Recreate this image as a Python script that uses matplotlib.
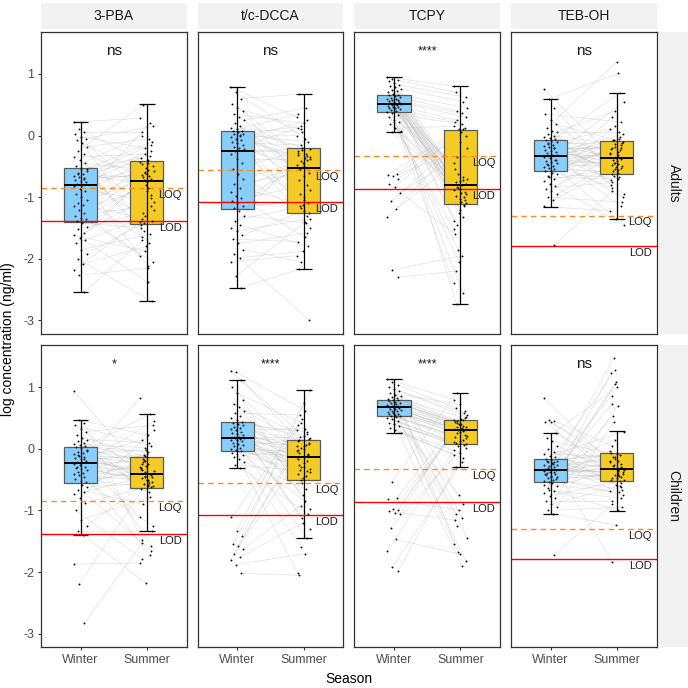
import matplotlib
matplotlib.use('Agg')
import matplotlib.pyplot as plt
import numpy as np

plt.rcParams['font.family'] = ['Liberation Sans', 'DejaVu Sans']
plt.rcParams['axes.unicode_minus'] = False

# ── Data ──────────────────────────────────────────────────────────────────────
compounds = ['3-PBA', 't/c-DCCA', 'TCPY', 'TEB-OH']
groups    = ['Adults', 'Children']
seasons   = ['Winter', 'Summer']

loq = [-0.85, -0.556, -0.334, -1.30]
lod = [-1.383, -1.08, -0.864, -1.79]

signif_adults   = ['ns', 'ns', '****', 'ns']
signif_children = ['*', '****', '****', 'ns']

# box stats: (whisker low, q1, median, q3, whisker high)
box_winter_adults   = [(-2.54, -1.40, -0.80, -0.523, 0.227), (-2.47, -1.19, -0.253, 0.076, 0.795),
                       (0.05, 0.384, 0.514, 0.65, 0.946), (-1.156, -0.583, -0.33, -0.075, 0.595)]
box_summer_adults   = [(-2.69, -1.43, -0.73, -0.415, 0.51), (-2.17, -1.25, -0.523, -0.205, 0.67),
                       (-2.74, -1.118, -0.80, 0.097, 0.805), (-1.35, -0.626, -0.361, -0.09, 0.69)]
box_winter_children = [(-1.40, -0.55, -0.23, 0.03, 0.47), (-0.31, -0.04, 0.17, 0.43, 1.125),
                       (0.26, 0.525, 0.677, 0.80, 1.136), (-1.05, -0.535, -0.345, -0.17, 0.255)]
box_summer_children = [(-1.33, -0.63, -0.41, -0.125, 0.56), (-1.44, -0.51, -0.13, 0.15, 0.95),
                       (-0.29, 0.076, 0.31, 0.466, 0.91), (-1.006, -0.525, -0.325, -0.06, 0.287)]

# paired individual values (log ng/ml), winter[i] <-> summer[i]
pba_adults_winter = [0.22, 0.10, 0.05, 0.02, -0.02, -0.05, -0.08, -0.12, -0.18, -0.25, -0.30, -0.35, -0.40, -0.45, -0.50,
                     -0.55, -0.57, -0.60, -0.62, -0.65, -0.67, -0.70, -0.72, -0.74, -0.76, -0.78, -0.80, -0.55, -0.63, -0.69,
                     -0.82, -0.86, -0.90, -0.95, -1.00, -1.05, -1.10, -1.12, -1.15, -1.20, -1.25, -1.30, -1.33, -1.36, -1.39,
                     -1.42, -1.48, -1.52, -1.58, -1.62, -1.66, -1.70, -1.75, -1.85, -1.92, -2.00, -2.08, -2.18, -2.27, -2.54]
pba_adults_summer = [0.28, -0.45, 0.05, -1.02, -0.20, 0.15, -0.62, -1.45, -0.05, 0.50, -0.70, -0.30, -1.20, -0.56, 0.00,
                     -0.33, -1.55, -0.10, -0.80, -0.43, -2.12, -0.64, -0.15, -1.30, -0.50, -0.90, -0.36, -1.75, -0.68, -0.25,
                     -0.59, -1.08, -0.40, -1.65, 0.20, -0.72, -1.38, -0.53, -1.95, -0.85, -0.46, -1.14, -0.60, -2.05, -0.76,
                     -1.50, -0.66, -1.25, -0.96, -1.88, -0.58, -2.38, -1.35, -1.60, -1.42, -2.69, -1.80, -1.40, -2.15, -1.70]

dcca_adults_winter = [0.79, 0.70, 0.60, 0.52, 0.45, 0.40, 0.35, 0.30, 0.25, 0.20, 0.15, 0.12, 0.10, 0.08, 0.08,
                      0.05, 0.03, 0.02, 0.00, -0.02, -0.05, -0.08, -0.10, -0.12, -0.15, -0.18, -0.20, -0.22, -0.25, 0.01,
                      -0.30, -0.38, -0.45, -0.55, -0.62, -0.70, -0.78, -0.85, -0.92, -0.98, -1.02, -1.06, -1.10, -1.14, -1.18,
                      -1.22, -1.30, -1.38, -1.45, -1.50, -1.55, -1.62, -1.68, -1.75, -1.85, -1.92, -1.98, -2.05, -2.28, -2.47]
dcca_adults_summer = [0.30, -0.05, 0.67, -0.40, 0.10, -0.88, 0.20, -0.28, 0.45, -0.55, -1.10, 0.05, -0.22, -0.65, 0.35,
                      -0.33, 0.15, -1.26, -0.45, 0.00, -0.36, -0.72, 0.25, -0.15, -1.50, -0.50, 0.12, -0.30, -0.95, -0.10,
                      -0.20, -0.38, -1.00, -0.25, -1.30, -0.42, -0.60, -1.12, -0.48, -1.65, -0.52, -0.80, -1.18, -0.35, -1.05,
                      -0.31, -1.42, -1.15, -1.80, -0.24, -1.35, -1.22, -1.72, -1.58, -2.05, -2.99, -1.88, -1.95, -1.40, -2.17]

tcpy_adults_winter = [0.95, 0.92, 0.90, 0.88, 0.85, 0.82, 0.80, 0.78, 0.76, 0.74, 0.72, 0.70, 0.68, 0.66, 0.65, 0.64,
                      0.62, 0.61, 0.60, 0.59, 0.58, 0.57, 0.56, 0.55, 0.54, 0.53, 0.52, 0.51, 0.50, 0.49, 0.48, 0.47,
                      0.46, 0.45, 0.44, 0.43, 0.42, 0.40, 0.38, 0.36, 0.34, 0.30, 0.26, 0.22, 0.18, 0.12, 0.08, 0.05,
                      -0.62, -0.64, -0.66, -0.70, -0.79, -0.83, -0.93, -1.07, -1.19, -1.32, -2.18, -2.30]
tcpy_adults_summer = [0.80, -0.81, 0.70, -1.15, -0.85, 0.62, -1.20, -0.89, 0.55, -2.74, -0.91, -1.25, 0.45, -0.93, -0.55, -1.32,
                      0.40, -0.95, -0.87, -2.40, 0.36, -0.98, -1.00, -0.62, 0.30, -1.03, -1.38, -0.68, 0.25, -1.05, -2.05, -0.70,
                      -1.08, 0.22, -0.72, -1.45, -1.10, -0.74, -1.52, 0.18, -0.76, -1.12, -1.85, -0.78, -0.79, 0.15, -2.55, -0.83,
                      0.12, 0.10, -0.20, 0.05, -1.60, 0.10, -0.35, 0.00, -0.10, -0.45, -1.95, -2.20]

teb_adults_winter = [0.75, 0.59, 0.45, 0.35, 0.25, 0.18, 0.12, 0.08, 0.05, 0.02, 0.00, -0.02, -0.04, -0.06, -0.07,
                     -0.09, -0.11, -0.13, -0.15, -0.17, -0.19, -0.21, -0.23, -0.25, -0.27, -0.29, -0.31, -0.32, -0.12, -0.20,
                     -0.35, -0.37, -0.39, -0.41, -0.43, -0.45, -0.47, -0.49, -0.51, -0.53, -0.55, -0.57, -0.58, -0.40, -0.46,
                     -0.60, -0.63, -0.66, -0.70, -0.74, -0.78, -0.82, -0.86, -0.90, -0.95, -1.00, -1.05, -1.15, -0.68, -1.78]
teb_adults_summer = [-0.30, 1.01, -0.62, 0.22, -0.54, -0.10, 1.20, -0.80, 0.05, -0.40, -0.16, 0.40, -0.95, -0.26, -0.48,
                     0.69, -0.65, -0.12, -0.36, 0.10, -0.56, -0.20, -1.15, -0.44, 0.02, -0.34, -0.72, -0.05, -0.58, -0.21,
                     -0.14, 0.55, -0.46, -0.85, -0.24, -0.07, -0.50, -1.35, -0.28, -0.60, 0.30, -0.38, -0.18, -1.00, -0.42,
                     -0.22, -0.68, -0.08, -0.52, 0.15, -1.45, -0.32, -0.76, -0.02, -0.45, -1.08, -0.51, -1.22, -0.70, -0.90]

pba_children_winter = [0.94, 0.47, 0.42, 0.38, 0.33, 0.28, 0.22, 0.18, 0.15, 0.12, 0.10, 0.08, 0.06, 0.04, 0.03,
                       0.01, -0.02, -0.05, -0.07, -0.09, -0.11, -0.13, -0.15, -0.17, -0.19, -0.21, -0.22, -0.03, -0.10, -0.16,
                       -0.25, -0.27, -0.29, -0.31, -0.33, -0.35, -0.37, -0.39, -0.41, -0.43, -0.46, -0.49, -0.52, -0.54, -0.30,
                       -0.58, -0.62, -0.66, -0.70, -0.74, -0.80, -0.88, -1.00, -1.15, -1.25, -1.33, -1.40, -1.87, -2.20, -2.83]
pba_children_summer = [-0.30, 0.22, -1.48, 0.05, -0.44, 0.38, -0.14, -0.65, 0.10, -0.22, -1.58, 0.02, -0.36, -0.05, -0.48,
                       0.56, -0.18, -0.54, -0.02, -1.10, -0.25, 0.15, -0.40, -0.12, -0.60, -0.08, -0.31, -0.70, -0.16, -0.42,
                       -0.20, 0.45, -0.58, -0.34, -1.72, -0.10, -0.46, -0.28, 0.83, -0.52, -0.24, -0.62, -0.38, -1.25, -0.50,
                       -0.32, -0.56, -0.90, -1.65, -0.45, 0.30, -0.61, -1.78, -0.78, -0.57, -1.33, -2.18, -1.85, -0.51, -1.52]

dcca_children_winter = [1.27, 1.25, 1.12, 1.00, 0.90, 0.80, 0.72, 0.68, 0.62, 0.58, 0.54, 0.50, 0.47, 0.44, 0.42, 0.40,
                        0.38, 0.36, 0.34, 0.32, 0.30, 0.28, 0.26, 0.24, 0.22, 0.20, 0.19, 0.18, 0.17, 0.16, 0.15, 0.14,
                        0.12, 0.10, 0.08, 0.06, 0.04, 0.02, 0.00, -0.02, -0.04, -0.06, -0.08, -0.10, -0.13, -0.17, -0.21,
                        -0.26, -0.31,
                        -1.11, -1.33, -1.42, -1.55, -1.57, -1.62, -1.70, -1.76, -1.80, -1.88, -2.02]
dcca_children_summer = [0.30, 0.62, 0.14, -0.20, 0.42, -0.98, 0.21, -0.41, 0.06, 0.55, -0.10, -1.12, 0.17, -0.29, -0.02, 0.27,
                        -0.50, 0.10, -0.75, -0.14, 0.33, -0.06, -0.36, 0.02, -1.30, -0.23, 0.12, -0.44, 0.19, -0.08, -0.55, -0.32,
                        0.04, -0.17, -1.44, -0.30, 0.16, -0.47, -0.04, -0.85, -0.26, -0.12, -1.60, -0.38, 0.00, -2.01, -0.65,
                        -0.35, -1.05,
                        0.48, 0.95, 0.75, 0.38, 0.24, -0.92, 0.08, -1.20, 0.05, -1.70, -2.05]

tcpy_children_winter = [1.13, 1.08, 1.04, 1.00, 0.97, 0.94, 0.91, 0.88, 0.86, 0.84, 0.82, 0.81, 0.80, 0.79, 0.78, 0.76,
                        0.75, 0.74, 0.72, 0.71, 0.70, 0.69, 0.68, 0.67, 0.66, 0.65, 0.64, 0.63, 0.62, 0.61, 0.60, 0.58,
                        0.57, 0.56, 0.55, 0.54, 0.53, 0.52, 0.50, 0.48, 0.45, 0.42, 0.40, 0.37, 0.34, 0.30, 0.26,
                        -0.54, -0.80, -0.82, -0.98, -1.00, -1.01, -1.04, -1.06, -1.28, -1.47, -1.66, -1.92, -1.99]
tcpy_children_summer = [0.80, -1.12, 0.66, 0.58, -1.68, 0.52, 0.72, 0.47, -0.89, 0.45, 0.50, 0.41, -1.44, 0.40, 0.44, 0.37,
                        0.35, -1.82, 0.38, 0.33, 0.34, -1.05, 0.31, 0.30, 0.36, 0.27, -1.55, 0.29, 0.25, 0.23, -0.75, 0.21,
                        0.32, 0.19, 0.15, -1.25, 0.17, 0.13, 0.11, -1.90, 0.09, 0.07, 0.05, 0.02, -0.06, -0.10, -0.15,
                        0.91, 0.62, -0.99, 0.55, 0.48, -1.16, 0.46, 0.42, 0.08, -1.71, -0.02, -0.22, -0.29]

teb_children_winter = [0.83, 0.47, 0.45, 0.44, 0.43, 0.25, 0.18, 0.12, 0.05, 0.00, -0.05, -0.08, -0.11, -0.14, -0.16,
                       -0.18, -0.20, -0.22, -0.24, -0.26, -0.28, -0.30, -0.32, -0.33, -0.34, -0.19, -0.23, -0.27, -0.31, -0.21,
                       -0.36, -0.38, -0.40, -0.42, -0.44, -0.46, -0.48, -0.50, -0.52, -0.53, -0.37, -0.41, -0.45, -0.49, -0.39,
                       -0.56, -0.60, -0.64, -0.68, -0.72, -0.76, -0.80, -0.85, -0.90, -0.95, -1.00, -1.05, -0.58, -0.66, -1.72]
teb_children_summer = [-0.22, -0.34, 0.05, -0.55, -0.16, -0.40, 1.00, -0.07, -0.44, -0.28, -0.62, -0.13, 0.28, -0.36, -0.48,
                       -0.10, 1.47, -0.31, -0.58, -0.19, -0.42, -1.83, -0.25, 0.15, -0.38, -0.08, -0.50, -0.70, -0.14, -0.46,
                       1.28, -0.35, -0.20, 0.86, -0.52, -0.26, -0.66, 1.09, -0.04, -0.39, 0.73, -0.30, -0.43, -0.75, -0.47,
                       1.23, -0.32, 0.54, -0.80, 1.05, -0.51, 0.70, -0.85, -0.60, 0.43, -0.95, -1.24, -0.68, -1.00, -0.90]

# ── Lookup tables built from the arrays above ─────────────────────────────────
points = {
    ('Adults', 0): (pba_adults_winter, pba_adults_summer),
    ('Adults', 1): (dcca_adults_winter, dcca_adults_summer),
    ('Adults', 2): (tcpy_adults_winter, tcpy_adults_summer),
    ('Adults', 3): (teb_adults_winter, teb_adults_summer),
    ('Children', 0): (pba_children_winter, pba_children_summer),
    ('Children', 1): (dcca_children_winter, dcca_children_summer),
    ('Children', 2): (tcpy_children_winter, tcpy_children_summer),
    ('Children', 3): (teb_children_winter, teb_children_summer),
}
boxes = {
    'Adults':   (box_winter_adults, box_summer_adults),
    'Children': (box_winter_children, box_summer_children),
}
signif = {'Adults': signif_adults, 'Children': signif_children}

# ── Styling ───────────────────────────────────────────────────────────────────
FILL       = ['#87CEFA', '#F4CB25']
BORDER     = '#333333'
TICK_TXT   = '#4D4D4D'
STRIP_BG   = '#F2F2F2'
W_PX, H_PX = 688, 688

col_x = [(40.7, 186.7), (197.7, 343.3), (354.0, 500.3), (510.7, 656.7)]
row_y = [(31.7, 334.0), (345.0, 647.3)]


def rect(x0, x1, y0, y1):
    return [x0 / W_PX, 1 - y1 / H_PX, (x1 - x0) / W_PX, (y1 - y0) / H_PX]


def jitter(n, k):
    # deterministic horizontal spread for the dots
    return ((np.arange(n) * k) % 19 - 9) / 88.0


fig = plt.figure(figsize=(6.88, 6.88), dpi=100)

# column strips
for c, name in enumerate(compounds):
    x0, x1 = col_x[c]
    sax = fig.add_axes(rect(x0, x1, 2.7, 29.3))
    sax.set_facecolor(STRIP_BG)
    sax.set_xticks([]); sax.set_yticks([])
    for s in sax.spines.values():
        s.set_visible(False)
    sax.text(0.5, 0.5, name, ha='center', va='center', fontsize=10, color='#1A1A1A',
             transform=sax.transAxes)

# row strips
for r, g in enumerate(groups):
    y0, y1 = row_y[r]
    sax = fig.add_axes(rect(659, 688, y0, y1))
    sax.set_facecolor(STRIP_BG)
    sax.set_xticks([]); sax.set_yticks([])
    for s in sax.spines.values():
        s.set_visible(False)
    sax.text(0.5, 0.5, g, ha='center', va='center', fontsize=10, color='#1A1A1A',
             rotation=-90, transform=sax.transAxes)

# panels
for r, g in enumerate(groups):
    for c in range(len(compounds)):
        x0, x1 = col_x[c]
        y0, y1 = row_y[r]
        ax = fig.add_axes(rect(x0, x1, y0, y1))
        ax.set_xlim(0.4, 2.6)
        ax.set_ylim(-3.22, 1.685)

        win, summ = points[(g, c)]
        win = np.array(win); summ = np.array(summ)
        xw = 1 + jitter(len(win), 7)
        xs = 2 + jitter(len(summ), 11)

        # paired lines
        for i in range(len(win)):
            ax.plot([xw[i], xs[i]], [win[i], summ[i]], color='#B8B8B8', lw=0.5,
                    alpha=0.4, zorder=1)

        # boxes + error-bar whiskers
        for k, st in enumerate(boxes[g]):
            lo, q1, med, q3, hi = st[c]
            pos = k + 1
            ax.bxp([{'whislo': lo, 'q1': q1, 'med': med, 'q3': q3, 'whishi': hi, 'fliers': []}],
                   positions=[pos], widths=0.5, patch_artist=True, showcaps=False,
                   showfliers=False,
                   boxprops=dict(facecolor=FILL[k], edgecolor='#5A5A5A', linewidth=0.9),
                   whiskerprops=dict(linewidth=0),
                   medianprops=dict(color='black', linewidth=1.4),
                   zorder=2)
            ax.vlines(pos, lo, hi, color='black', lw=0.9, zorder=3)
            ax.hlines([lo, hi], pos - 0.12, pos + 0.12, color='black', lw=0.9, zorder=3)

        # dots
        ax.scatter(xw, win, s=1.8, c='black', linewidths=0, zorder=5)
        ax.scatter(xs, summ, s=1.8, c='black', linewidths=0, zorder=5)

        # LOQ / LOD reference lines
        ax.axhline(loq[c], color='#FF8C1A', lw=1.0, ls=(0, (4, 3)), zorder=4)
        ax.axhline(lod[c], color='#FF0000', lw=1.0, zorder=4)
        ax.text(2.35, loq[c] - 0.11, 'LOQ', ha='center', va='center', fontsize=8,
                color='#1A1A1A', zorder=6)
        ax.text(2.35, lod[c] - 0.11, 'LOD', ha='center', va='center', fontsize=8,
                color='#1A1A1A', zorder=6)

        # significance label
        lab = signif[g][c]
        ax.text(1.5, 1.37, lab, ha='center', va='center',
                fontsize=11 if lab == 'ns' else 9, color='#1A1A1A', zorder=6)

        for s in ax.spines.values():
            s.set_color(BORDER)
            s.set_linewidth(0.9)
            s.set_zorder(7)

        ax.set_yticks([-3, -2, -1, 0, 1])
        ax.set_xticks([1, 2])
        ax.set_xticklabels(seasons)
        ax.tick_params(colors=BORDER, labelcolor=TICK_TXT, labelsize=9, length=2.5,
                       width=0.8, pad=2)
        if c != 0:
            ax.tick_params(left=False, labelleft=False)
        if r == 0:
            ax.tick_params(bottom=False, labelbottom=False)

fig.text(8 / W_PX, 1 - 339.5 / H_PX, 'log concentration (ng/ml)', rotation=90,
         ha='center', va='center', fontsize=10, color='black')
fig.text(348.7 / W_PX, 1 - 679 / H_PX, 'Season', ha='center', va='center',
         fontsize=10, color='black')

fig.savefig('out.png', dpi=100)
